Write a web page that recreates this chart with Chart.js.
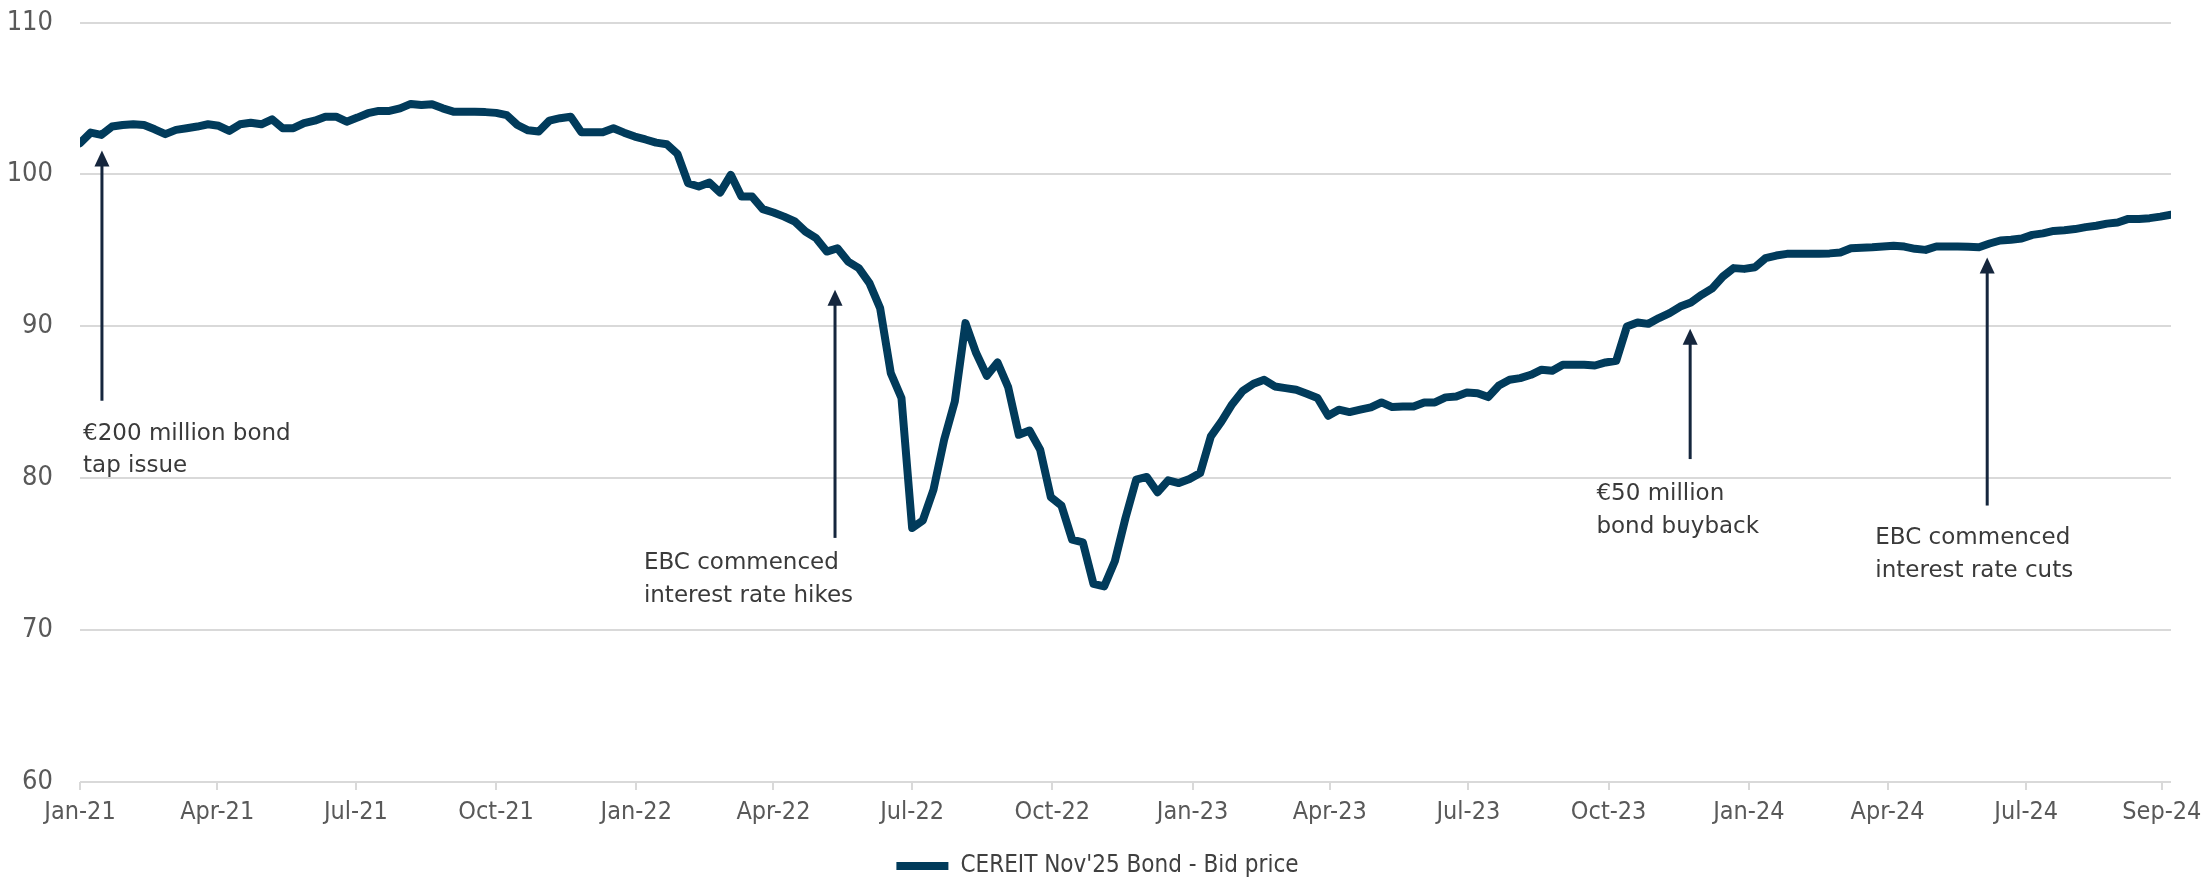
<!DOCTYPE html>
<html>
<head>
<meta charset="utf-8">
<style>
  html, body { margin: 0; padding: 0; background: #fff; }
  #wrap { width: 2206px; height: 878px; }
</style>
</head>
<body>
<div id="wrap"><canvas id="bondChart"></canvas></div>
<script src="https://cdn.jsdelivr.net/npm/chart.js"></script>
<script>
// weekly observations, day 0 = 1 Jan 2021
const weekStep = 7;

const tickLabels = ['Jan-21', 'Apr-21', 'Jul-21', 'Oct-21', 'Jan-22', 'Apr-22', 'Jul-22', 'Oct-22',
                    'Jan-23', 'Apr-23', 'Jul-23', 'Oct-23', 'Jan-24', 'Apr-24', 'Jul-24', 'Sep-24'];
const tickDays = [0, 90, 181, 273, 365, 455, 546, 638, 730, 820, 911, 1003, 1095, 1186, 1277, 1366];
const lastDay = 1372;

const bidPrice = [
  102.05, 102.75, 102.6, 103.15, 103.25, 103.3, 103.25, 102.97, 102.65, 102.93,
  103.04, 103.15, 103.3, 103.2, 102.86, 103.3, 103.4, 103.3, 103.63, 103.04,
  103.04, 103.37, 103.54, 103.8, 103.8, 103.47, 103.74, 104.03, 104.18, 104.18,
  104.35, 104.64, 104.57, 104.62, 104.35, 104.13, 104.13, 104.13, 104.1, 104.05,
  103.9, 103.25, 102.9, 102.82, 103.54, 103.7, 103.8, 102.78, 102.78, 102.78,
  103.04, 102.75, 102.49, 102.3, 102.09, 101.99, 101.35, 99.42, 99.2, 99.46,
  98.8, 99.97, 98.54, 98.54, 97.71, 97.49, 97.22, 96.9, 96.24, 95.8,
  94.92, 95.14, 94.26, 93.83, 92.84, 91.2, 86.92, 85.28, 76.72, 77.22,
  79.24, 82.53, 85.05, 90.21, 88.24, 86.74, 87.62, 86.0, 82.86, 83.14,
  81.88, 78.76, 78.19, 75.95, 75.78, 73.04, 72.88, 74.53, 77.38, 79.9,
  80.08, 79.07, 79.86, 79.68, 79.95, 80.34, 82.75, 83.74, 84.87, 85.75,
  86.22, 86.48, 86.04, 85.93, 85.82, 85.56, 85.28, 84.11, 84.51, 84.35,
  84.51, 84.66, 84.99, 84.68, 84.72, 84.72, 84.99, 84.99, 85.32, 85.38,
  85.64, 85.6, 85.34, 86.1, 86.48, 86.59, 86.81, 87.14, 87.07, 87.47,
  87.47, 87.47, 87.42, 87.62, 87.73, 89.99, 90.25, 90.16, 90.54, 90.87,
  91.3, 91.57, 92.07, 92.5, 93.28, 93.83, 93.78, 93.89, 94.49, 94.66,
  94.77, 94.77, 94.77, 94.77, 94.8, 94.86, 95.14, 95.17, 95.2, 95.25,
  95.3, 95.25, 95.1, 95.03, 95.25, 95.25, 95.25, 95.23, 95.21, 95.45,
  95.65, 95.7, 95.78, 96.02, 96.12, 96.28, 96.33, 96.4, 96.53, 96.62,
  96.76, 96.83, 97.07, 97.07, 97.12, 97.22, 97.34
];

// event markers: arrow from tail up to tip, caption below
const events = [
  { lines: ['€200 million bond', 'tap issue'], day: 14.4, tip: 101.57, tail: 85.1, textDay: 2, textY: 82.53 },
  { lines: ['EBC commenced', 'interest rate hikes'], day: 495.4, tip: 92.4, tail: 76.07, textDay: 370, textY: 74.03 },
  { lines: ['€50 million', 'bond buyback'], day: 1056.5, tip: 89.84, tail: 81.26, textDay: 995, textY: 78.57 },
  { lines: ['EBC commenced', 'interest rate cuts'], day: 1251.4, tip: 94.53, tail: 78.2, textDay: 1178, textY: 75.66 }
];

const narrow = "'Liberation Sans Narrow', 'DejaVu Sans Condensed', sans-serif";

const eventArrows = {
  id: 'eventArrows',
  afterDraw(chart) {
    const { ctx, scales: { x, y } } = chart;
    ctx.save();
    events.forEach(ev => {
      const px = x.getPixelForValue(ev.day);
      const top = y.getPixelForValue(ev.tip);
      const bottom = y.getPixelForValue(ev.tail);
      ctx.strokeStyle = '#15263d';
      ctx.fillStyle = '#15263d';
      ctx.lineWidth = 3;
      ctx.beginPath();
      ctx.moveTo(px, bottom);
      ctx.lineTo(px, top + 14);
      ctx.stroke();
      ctx.beginPath();
      ctx.moveTo(px, top);
      ctx.lineTo(px - 7.5, top + 16);
      ctx.lineTo(px + 7.5, top + 16);
      ctx.closePath();
      ctx.fill();

      ctx.fillStyle = '#3a3a3a';
      ctx.font = "23px 'DejaVu Sans', sans-serif";
      ctx.textBaseline = 'alphabetic';
      ctx.textAlign = 'left';
      const tx = x.getPixelForValue(ev.textDay);
      const ty = y.getPixelForValue(ev.textY);
      ev.lines.forEach((line, i) => ctx.fillText(line, tx, ty + i * 32.7));
    });
    ctx.restore();
  }
};

// nudge the legend row a little right of the canvas centre
const legendShift = {
  id: 'legendShift',
  afterLayout(chart) {
    chart.legend.left += 12;
    chart.legend.right += 12;
  }
};

new Chart(document.getElementById('bondChart'), {
  type: 'line',
  data: {
    datasets: [{
      label: "CEREIT Nov'25 Bond - Bid price",
      data: bidPrice.map((v, i) => ({ x: i * weekStep, y: v })),
      borderColor: '#013b5b',
      backgroundColor: '#013b5b',
      borderWidth: 8,
      borderCapStyle: 'round',
      borderJoinStyle: 'round',
      pointRadius: 0,
      tension: 0
    }]
  },
  options: {
    responsive: true,
    maintainAspectRatio: false,
    animation: false,
    layout: { padding: { top: 22.5, right: 35, bottom: -10, left: 0 } },
    plugins: {
      legend: {
        position: 'bottom',
        labels: {
          usePointStyle: true,
          pointStyle: 'line',
          pointStyleWidth: 52,
          color: '#404040',
          font: { family: narrow, size: 24 },
          padding: 0
        }
      },
      tooltip: { enabled: false }
    },
    scales: {
      x: {
        type: 'linear',
        min: 0,
        max: lastDay,
        afterBuildTicks: axis => { axis.ticks = tickDays.map(d => ({ value: d })); },
        afterFit: axis => {
          axis.paddingLeft = 0;
          axis.paddingRight = 0;
          axis.height = 72;
        },
        ticks: {
          autoSkip: false,
          maxRotation: 0,
          padding: 7,
          color: '#595959',
          font: { family: narrow, size: 25 },
          callback: value => tickLabels[tickDays.indexOf(value)]
        },
        grid: { drawOnChartArea: false, drawTicks: true, tickLength: 8, color: '#d9d9d9', lineWidth: 2 },
        border: { display: false }
      },
      y: {
        min: 60,
        max: 110,
        afterFit: axis => {
          axis.width = 80;
          axis.paddingTop = 0;
          axis.paddingBottom = 0;
        },
        ticks: {
          stepSize: 10,
          padding: 27,
          color: '#595959',
          font: { family: narrow, size: 27 }
        },
        grid: { color: '#d9d9d9', lineWidth: 2, drawTicks: false },
        border: { display: false }
      }
    }
  },
  plugins: [eventArrows, legendShift]
});
</script>
</body>
</html>
